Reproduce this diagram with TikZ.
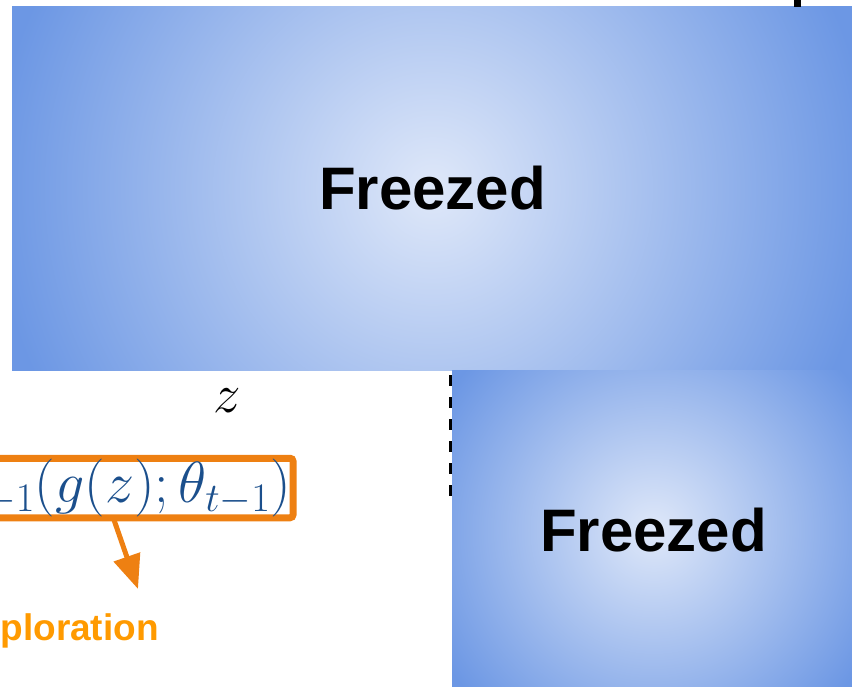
\RequirePackage{fix-cm}
\documentclass[tikz,border=0pt]{standalone}
\usepackage{fontspec}
\setsansfont{Liberation Sans}
\usetikzlibrary{arrows.meta}

\definecolor{frzin}{HTML}{DFE8F9}
\definecolor{frzout}{HTML}{6C97E4}
\definecolor{boxorange}{HTML}{EE8012}
\definecolor{explorange}{HTML}{FF9A00}
\definecolor{formblue}{HTML}{1B4F8C}

\pgfdeclareradialshading{frzshade}{\pgfpoint{0bp}{0bp}}{%
  color(0bp)=(frzin); color(24bp)=(frzout); color(50bp)=(frzout)}

\tikzset{
  frozen/.style={inner sep=0pt, outer sep=0pt,
    path picture={\shade[shading=frzshade]
      (path picture bounding box.center) circle (#1);},
    font=\sffamily\bfseries\fontsize{60}{72}\selectfont},
  formbox/.style={draw=boxorange, line width=7pt, rounded corners=3pt,
    inner xsep=2pt, inner ysep=0pt, outer sep=0pt, minimum height=59.5,
    text=formblue, font=\fontsize{58}{70}\selectfont},
  explarrow/.style={draw=boxorange, line width=5pt,
    -{Triangle[length=34pt,width=27pt]}},
}

\begin{document}
\begin{tikzpicture}[x=1pt,y=-1pt,line cap=butt,line join=miter]
  \useasboundingbox (0,0) rectangle (852,687);
  \clip (0,0) rectangle (852,687);

  % Frozen blocks.
  \node[frozen=458pt, minimum width=841, minimum height=363] (frz1) at (432.5,188.5) {Freezed};
  \node[frozen=257pt, minimum width=403, minimum height=320] (frz2) at (653.5,530) {Freezed};

  % Line leaving the top block.
  \coordinate (up) at (797.5,-30);
  \draw[line width=7pt] (up) -- (up |- frz1.north);

  % Dashed guide left of the lower block.
  \coordinate (d1) at (450,375);
  \coordinate (d2) at (450,497);
  \draw[line width=3pt, dash pattern=on 11pt off 11pt] (d1) -- (d2);

  % Latent input and generator output.
  \node[font=\fontsize{55}{66}\selectfont] (z) at (227,401) {$z$};
  \node[formbox, anchor=east] (f) at (293,488) {$f_{t-1}(g(z);\theta_{t-1})$};

  % Exploration arrow.
  \node[text=explorange, font=\sffamily\bfseries\fontsize{37}{44}\selectfont,
    anchor=base east, inner sep=0pt] (expl) at (159,640) {Exploration};
  \coordinate (a0) at (113,517);
  \coordinate (tip) at (138,589);
  \draw[explarrow] (a0) -- (tip);
\end{tikzpicture}
\end{document}
